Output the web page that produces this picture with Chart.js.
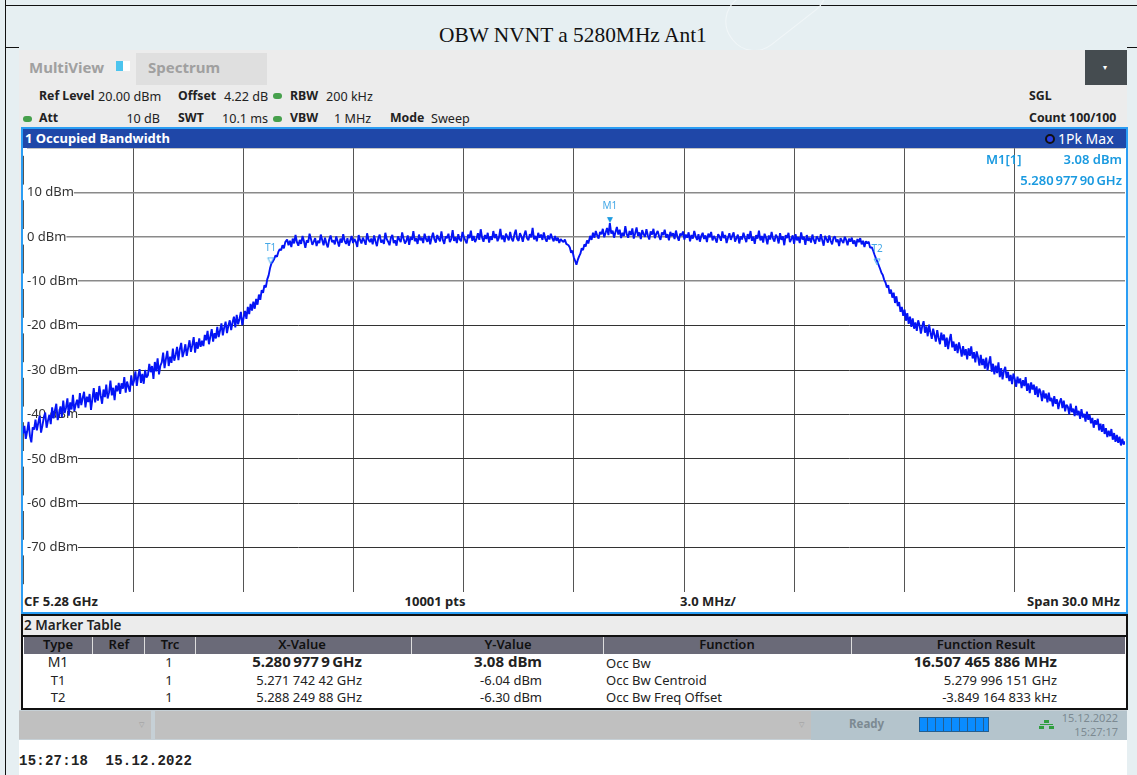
<!DOCTYPE html>
<html>
<head>
<meta charset="utf-8">
<title>OBW NVNT a 5280MHz Ant1</title>
<script src="https://cdn.jsdelivr.net/npm/chart.js@4/dist/chart.umd.min.js"></script>
<style>
  html, body { margin: 0; padding: 0; background: #e6eff2; }
  #page { position: relative; width: 1137px; height: 775px; overflow: hidden; font-family: "Noto Sans", sans-serif; font-size: 13px; color: #222; }
  .box { position: absolute; }
  .t { position: absolute; white-space: pre; line-height: 16px; }
  .b { font-weight: 700; }
  .c { transform: translateX(-50%); }
  .hd { color: #111; font-weight: 600; top: 636px; }
  .cy { color: #1a9ae0; font-weight: 600; }
  .s { font-size: 12.6px; }
  .l { font-size: 12.3px; font-weight: 700; }
  .num { word-spacing: -1.5px; }
  canvas { position: absolute; left: 23px; top: 148px; }
</style>
</head>
<body>
<div id="page">
  <div class="box" style="left:5px;top:5px;width:1132px;height:1px;background:#111"></div>
  <div class="box" style="left:5px;top:0;width:1px;height:775px;background:#111"></div>
  <div class="box" style="left:5px;top:47px;width:14px;height:1px;background:#111"></div>
  <div class="box" style="left:1127px;top:47px;width:10px;height:1px;background:#111"></div>
  <div class="box" style="left:720px;top:-24px;width:110px;height:56px;border:1px solid #f1f6f8;border-radius:28px;transform:rotate(-38deg)"></div>
  <div class="t" style="left:439px;top:24px;font:21.4px/22px 'Liberation Serif',serif;color:#111">OBW NVNT a 5280MHz Ant1</div>

  <div class="box" style="left:19px;top:50px;width:1108px;height:660px;background:#ececec"></div>
  <div class="box" style="left:19px;top:740px;width:1108px;height:35px;background:#fff"></div>

  <div class="t b" style="left:29px;top:59px;font-size:15px;color:#a0a0a0">MultiView</div>
  <div class="box" style="left:116px;top:61px;width:14px;height:10px;background:linear-gradient(90deg,#4cc4ee 50%,#fff 50%)"></div>
  <div class="box" style="left:136px;top:53px;width:131px;height:32px;background:#dfdfdf"></div>
  <div class="t b" style="left:148px;top:59px;font-size:15px;color:#a0a0a0">Spectrum</div>
  <div class="box" style="left:1085px;top:50px;width:42px;height:35px;background:#454c50"></div>
  <div class="t" style="left:1103px;top:59px;color:#fff;font-size:8px">▾</div>

  <div class="t l" style="left:39px;top:88px">Ref Level</div>
  <div class="t s" style="left:98px;top:89px">20.00 dBm</div>
  <div class="t l" style="left:178px;top:88px">Offset</div>
  <div class="t s" style="left:224px;top:89px">4.22 dB</div>
  <div class="box" style="left:273px;top:93px;width:9px;height:6px;border-radius:3px;background:#46a04c"></div>
  <div class="t l" style="left:290px;top:88px">RBW</div>
  <div class="t s" style="left:326px;top:89px">200 kHz</div>
  <div class="box" style="left:23px;top:116px;width:9px;height:6px;border-radius:3px;background:#46a04c"></div>
  <div class="t l" style="left:39px;top:110px">Att</div>
  <div class="t s" style="right:977px;top:111px">10 dB</div>
  <div class="t l" style="left:178px;top:110px">SWT</div>
  <div class="t s" style="left:222px;top:111px">10.1 ms</div>
  <div class="box" style="left:273px;top:116px;width:9px;height:6px;border-radius:3px;background:#46a04c"></div>
  <div class="t l" style="left:290px;top:110px">VBW</div>
  <div class="t s" style="left:334px;top:111px">1 MHz</div>
  <div class="t l" style="left:390px;top:110px">Mode</div>
  <div class="t s" style="left:431px;top:111px">Sweep</div>
  <div class="t l" style="left:1029px;top:88px">SGL</div>
  <div class="t l" style="left:1029px;top:110px">Count 100/100</div>

  <div class="box" style="left:21px;top:127px;width:1103px;height:483px;border:2px solid #2a9df4;background:#fff"></div>
  <div class="box" style="left:23px;top:129px;width:1103px;height:19px;background:#1f47a8"></div>
  <div class="t b" style="left:25px;top:130px;color:#fff">1 Occupied Bandwidth</div>
  <div class="box" style="left:1045px;top:134px;width:6px;height:6px;border-radius:50%;background:#2a3fe0;border:2px solid #111"></div>
  <div class="t" style="left:1058px;top:131px;color:#fff;font-size:14px">1Pk Max</div>

  <canvas id="spectrum" width="1102" height="444"></canvas>

  <div class="t cy" style="left:986px;top:151px">M1[1]</div>
  <div class="t cy" style="right:15px;top:151px">3.08 dBm</div>
  <div class="t cy num" style="right:15px;top:172px">5.280 977 90 GHz</div>

  <div class="t b" style="left:24px;top:593px">CF 5.28 GHz</div>
  <div class="t b c" style="left:435px;top:593px">10001 pts</div>
  <div class="t b c" style="left:708px;top:593px">3.0 MHz/</div>
  <div class="t b" style="right:17px;top:593px">Span 30.0 MHz</div>

  <div class="box" style="left:21px;top:614px;width:1103px;height:92px;border:2px solid #111;background:#fff"></div>
  <div class="box" style="left:23px;top:616px;width:1103px;height:19px;background:#ececec"></div>
  <div class="t" style="left:24px;top:617px;font-weight:600;font-size:13.5px">2 Marker Table</div>
  <div class="box" style="left:23px;top:635px;width:1103px;height:2px;background:#111"></div>
  <div class="box" style="left:24px;top:637px;width:1101px;height:17px;background:#6a6a78"></div>
  <div class="box" style="left:92px;top:637px;width:1px;height:17px;background:#ddd"></div>
  <div class="box" style="left:144px;top:637px;width:1px;height:17px;background:#ddd"></div>
  <div class="box" style="left:195px;top:637px;width:1px;height:17px;background:#ddd"></div>
  <div class="box" style="left:411px;top:637px;width:1px;height:17px;background:#ddd"></div>
  <div class="box" style="left:603px;top:637px;width:1px;height:17px;background:#ddd"></div>
  <div class="box" style="left:851px;top:637px;width:1px;height:17px;background:#ddd"></div>
  <div class="t hd c" style="left:58px">Type</div>
  <div class="t hd c" style="left:119px">Ref</div>
  <div class="t hd c" style="left:170px">Trc</div>
  <div class="t hd c" style="left:302px">X-Value</div>
  <div class="t hd c" style="left:508px">Y-Value</div>
  <div class="t hd c" style="left:727px">Function</div>
  <div class="t hd c" style="left:986px">Function Result</div>

  <div class="t c" style="left:58px;top:654px;font-size:14px">M1</div>
  <div class="t c" style="left:169px;top:654px">1</div>
  <div class="t b num" style="right:775px;top:653px;font-size:15px">5.280 977 9 GHz</div>
  <div class="t b" style="right:595px;top:653px;font-size:15px">3.08 dBm</div>
  <div class="t" style="left:606px;top:655px">Occ Bw</div>
  <div class="t b" style="right:80px;top:653px;font-size:15px">16.507 465 886 MHz</div>
  <div class="t c" style="left:58px;top:672px">T1</div>
  <div class="t c" style="left:169px;top:672px">1</div>
  <div class="t" style="right:775px;top:672px">5.271 742 42 GHz</div>
  <div class="t" style="right:595px;top:672px">-6.04 dBm</div>
  <div class="t" style="left:606px;top:672px">Occ Bw Centroid</div>
  <div class="t" style="right:80px;top:672px">5.279 996 151 GHz</div>
  <div class="t c" style="left:58px;top:689px">T2</div>
  <div class="t c" style="left:169px;top:689px">1</div>
  <div class="t" style="right:775px;top:689px">5.288 249 88 GHz</div>
  <div class="t" style="right:595px;top:689px">-6.30 dBm</div>
  <div class="t" style="left:606px;top:689px">Occ Bw Freq Offset</div>
  <div class="t" style="right:80px;top:689px">-3.849 164 833 kHz</div>

  <div class="box" style="left:19px;top:710px;width:1108px;height:30px;background:#c6d0d6"></div>
  <div class="box" style="left:19px;top:711px;width:132px;height:28px;background:#c0c0c0"></div>
  <div class="box" style="left:155px;top:711px;width:656px;height:28px;background:#c0c0c0"></div>
  <div class="t" style="left:139px;top:717px;color:#9a9a9a;font-size:7px">▽</div>
  <div class="t" style="left:799px;top:717px;color:#9a9a9a;font-size:7px">▽</div>
  <div class="box" style="left:811px;top:711px;width:316px;height:29px;background:#b4c4cc"></div>
  <div class="t b" style="left:849px;top:716px;font-size:11.5px;color:#7c8a92">Ready</div>
  <div class="box" style="left:919px;top:717px;width:70px;height:15px;background:repeating-linear-gradient(90deg,#0a8cff 0,#0a8cff 7px,#245e90 7px,#245e90 8px);border:1px solid #245e90;box-sizing:border-box"></div>
  <div class="box" style="left:1044px;top:720px;width:5px;height:3px;background:#2f9e3f"></div>
  <div class="box" style="left:1040px;top:724px;width:13px;height:1px;background:#2f9e3f"></div>
  <div class="box" style="left:1039px;top:726px;width:5px;height:3px;background:#2f9e3f"></div>
  <div class="box" style="left:1049px;top:726px;width:5px;height:3px;background:#2f9e3f"></div>
  <div class="t" style="right:19px;top:710px;font-size:11px;color:#7c8a92">15.12.2022</div>
  <div class="t" style="right:19px;top:724px;font-size:11px;color:#7c8a92">15:27:17</div>
  <div class="t" style="left:19px;top:753px;font:700 14px/16px 'Liberation Mono',monospace;color:#222;letter-spacing:0.25px">15:27:18  15.12.2022</div>
</div>

<script>
// sweep limits and grid, GHz and dBm
const freqStartGHz = 5.265;
const freqStopGHz = 5.295;
const freqDivGHz = 0.003;
const refTopDbm = 20;
const refBottomDbm = -80;
const levelDivDb = 10;

// trace, one list per stretch of the sweep
const leftSkirtDbm = [
  -44.3,-42.6,-45.5,-43.8,-41.7,-44.9,-46.3,-42.9,-43.4,-41.2,
  -43.6,-41.9,-40.3,-44.1,-42.5,-40.7,-39.6,-43.0,-41.4,-40.1,
  -42.2,-38.4,-40.9,-39.1,-37.6,-41.3,-39.8,-38.2,-40.6,-36.9,
  -39.7,-38.5,-36.4,-40.3,-37.3,-38.9,-35.6,-39.2,-37.8,-36.7,
  -38.6,-35.2,-37.9,-36.3,-34.9,-38.4,-36.0,-37.2,-35.4,-39.0,
  -36.5,-34.1,-37.3,-35.0,-36.9,-33.6,-35.8,-37.6,-34.4,-36.1,
  -33.3,-36.4,-35.1,-32.4,-35.7,-34.0,-36.8,-33.5,-34.8,-32.9,
  -35.4,-33.0,-34.2,-31.6,-35.1,-32.6,-33.8,-34.9,-31.2,-33.5,
  -32.4,-30.3,-33.6,-31.4,-29.8,-32.9,-30.9,-33.1,-30.0,-31.7,
  -31.2,-28.6,-30.5,-29.1,-32.0,-28.2,-30.3,-27.4,-31.0,-29.0,
  -28.3,-26.1,-29.6,-27.5,-25.7,-29.1,-27.0,-28.4,-25.2,-27.9,
  -26.6,-24.8,-27.8,-25.3,-23.9,-27.1,-25.9,-24.2,-26.8,-25.0,
  -23.3,-25.9,-24.4,-22.6,-26.1,-23.7,-25.2,-22.9,-24.8,-23.4,
  -24.6,-22.1,-23.3,-21.2,-24.2,-22.5,-20.8,-23.6,-21.7,-22.9,
  -20.3,-22.6,-21.1,-19.5,-22.2,-20.4,-19.1,-21.7,-20.0,-18.8,
  -21.0,-19.3,-18.0,-20.4,-17.6,-19.7,-18.5,-16.9,-19.9,-18.2,
  -16.7,-18.5,-15.8,-17.4,-15.1,-16.6,-14.6,-16.2,-14.0,-15.3,
  -13.0,-14.2,-12.0,-12.6,-10.9,-11.4,-9.6,-8.7,-7.1,-6.0,
  -5.6,-5.0,-4.2,-4.5,-3.4,-2.8,-3.0,-1.9,-2.6,-1.2
];
const plateauLeftDbm = [
  -0.6,-1.9,-0.9,-2.3,-0.4,-1.5,0.4,-1.2,-2.0,-0.7,-1.6,0.2,-1.0,-2.5,-0.8,-1.3,0.7,-0.5,-1.8,-1.1,
  -0.3,-2.1,-0.9,-1.4,0.5,-0.7,-1.9,-0.2,-1.5,-2.4,-0.6,0.3,-1.2,-0.8,-1.7,0.1,-1.0,-2.2,-0.4,-1.3,
  0.6,-0.9,-1.6,-0.3,-2.0,-0.8,0.2,-1.4,-0.5,-1.1,-2.3,0.4,-0.7,-1.5,-0.2,-0.9,-1.8,0.8,-0.6,-1.2,
  -0.4,-1.7,0.3,-1.0,-2.1,-0.3,0.5,-1.3,-0.7,-1.6,0.9,-0.5,-1.1,-1.9,-0.2,0.4,-1.4,-0.8,-2.0,0.1,
  -0.6,-1.2,1.0,-0.4,-1.5,-0.9,0.3,-1.8,-0.1,-0.7,1.3,-1.0,-0.3,-1.6,0.5,-0.8,-0.2,-1.4,0.7,-0.5,
  -1.1,0.2,-1.7,-0.2,0.9,-0.6,-1.3,0.4,-0.4,-1.0,1.2,-0.7,-1.6,0.1,-0.3,0.7,-1.2,-0.5,1.5,-0.9,
  -0.1,-1.4,0.6,-0.6,-1.0,1.1,0.0,-0.8,-1.5,0.5,-0.3,1.4,-0.9,0.2,-1.2,-0.4,0.8,-0.7,1.7,-0.2,
  -1.1,0.4,-0.5,0.9,-1.3,0.1,-0.7,1.3,-0.3,0.6,-1.0,-0.2,1.8,-0.6,0.3,-1.2,0.7,0.0,-0.8,1.1,
  -0.4,-1.0,0.5,1.6,-0.5,-0.9,0.8,0.1,-1.1,0.4,1.4,-0.3,-0.8,0.6,-0.1,2.0,-0.6,0.2,-1.0,0.9,
  -0.2,0.5,-0.7,1.0,-0.4,-1.1,0.3,-0.6,0.7,-0.3,-1.0,0.2,-0.9,-0.2,-1.4,-0.5,-0.9,-1.2,-0.6,-1.6
];
const notchDbm = [-1.9,-2.4,-3.6,-3.1,-4.6,-5.4,-6.3,-5.2,-4.4,-3.8,-2.6,-3.0,-1.7,-2.2,-0.8,-1.5];
const plateauRightDbm = [
  0.2,-0.7,0.9,-0.2,1.3,0.3,-0.4,1.1,0.6,1.8,-0.1,0.9,2.0,0.4,3.08,0.7,1.4,-0.2,1.1,2.2,
  0.5,1.6,-0.3,0.9,0.2,2.4,0.6,-0.2,1.3,0.4,1.9,-0.4,0.8,2.1,0.2,1.0,-0.5,1.5,0.6,0.0,
  1.7,0.3,-0.6,1.2,0.5,1.8,-0.3,0.7,1.3,0.1,-0.7,1.0,0.4,1.6,-0.2,0.6,-0.8,1.1,0.2,0.8,
  -0.5,1.4,0.0,-0.9,0.7,0.3,1.2,-0.6,0.5,-0.2,1.0,-1.0,0.4,-0.4,1.3,0.1,-0.7,0.6,-1.1,0.2,
  0.9,-0.5,0.3,-1.2,0.7,-0.1,1.1,-0.8,0.2,-0.4,-1.3,0.6,0.0,-0.9,1.2,-0.3,0.4,-1.4,-0.2,0.8,
  -0.7,0.2,1.0,-1.1,-0.3,0.5,-1.5,0.1,-0.6,0.9,-0.2,-1.2,0.6,-0.5,1.3,-0.9,0.0,-1.6,0.4,-0.4,
  1.4,-0.8,0.2,-1.3,0.7,-0.2,-1.7,0.3,-0.6,1.1,-0.4,-1.1,0.5,-0.1,-1.5,0.8,-0.7,0.1,-1.9,0.4,
  -0.3,0.9,-1.2,-0.5,0.3,-1.6,0.6,-0.8,-0.1,-1.4,1.0,-0.6,0.0,-1.8,0.4,-0.9,-0.2,-1.3,0.5,-0.7,
  -1.6,0.1,-0.4,-1.1,0.6,-0.8,-2.0,0.2,-0.5,-1.3,0.3,-0.9,-1.7,-0.2,0.1,-1.2,-0.6,-2.1,-0.3,-0.9,
  -1.4,0.0,-0.7,-1.9,-0.4,-1.1,-0.2,-1.6,-0.8,-2.2,-0.5,-1.2,-0.3,-1.7,-0.9,-2.3,-1.0,-1.5,-1.1,-2.4
];
const rightSkirtDbm = [
  -2.4,-3.2,-4.1,-4.9,-5.6,-6.4,-7.2,-8.1,-8.6,-9.7,
  -10.3,-11.4,-10.9,-12.8,-11.9,-13.7,-12.6,-14.9,-13.4,-15.6,
  -14.7,-16.9,-15.8,-17.8,-16.4,-18.9,-17.2,-19.6,-18.0,-20.3,
  -18.4,-20.7,-19.3,-21.2,-18.8,-19.9,-21.8,-20.1,-19.0,-21.6,
  -20.2,-22.4,-19.8,-21.5,-23.0,-20.7,-22.1,-23.6,-21.0,-22.8,
  -24.2,-21.6,-23.3,-22.0,-24.8,-22.7,-25.3,-23.2,-21.9,-24.9,
  -23.6,-25.7,-24.1,-26.2,-23.8,-25.2,-27.0,-24.6,-26.7,-25.3,
  -27.6,-25.1,-26.8,-24.7,-27.4,-26.0,-28.3,-25.8,-27.1,-29.0,
  -26.6,-28.9,-27.5,-29.7,-27.2,-30.1,-28.4,-26.9,-30.4,-28.6,
  -31.0,-29.0,-30.7,-28.3,-31.6,-29.6,-32.1,-30.2,-29.3,-31.8,
  -30.4,-32.5,-31.1,-33.2,-30.8,-32.0,-33.8,-31.5,-33.0,-31.9,
  -34.1,-32.3,-33.6,-31.6,-34.7,-33.0,-35.2,-32.8,-34.4,-33.3,
  -35.6,-33.7,-36.1,-34.2,-35.0,-37.0,-34.6,-36.4,-35.3,-37.3,
  -35.1,-37.0,-36.3,-38.2,-35.9,-37.6,-36.6,-38.8,-37.2,-36.4,
  -38.6,-36.9,-39.3,-37.8,-38.3,-40.0,-37.6,-39.5,-38.7,-40.4,
  -38.1,-40.2,-39.2,-41.0,-38.8,-40.7,-39.9,-41.6,-39.4,-41.2,
  -40.1,-42.0,-40.8,-43.0,-41.3,-42.3,-41.0,-43.6,-42.1,-43.9,
  -42.2,-44.4,-43.1,-45.1,-43.7,-44.9,-43.3,-45.7,-44.2,-46.2,
  -44.6,-46.4,-45.0,-47.0,-45.5,-46.8,-46.1
];

// markers from the marker table
const markerNames = ['M1', 'T1', 'T2'];
const markerFreqGHz = [5.2809779, 5.27174242, 5.28824988];
const markerLevelDbm = [3.08, -6.04, -6.30];

function sweep(startGHz, stopGHz, values) {
  return values.map((y, i) => ({ x: startGHz + (stopGHz - startGHz) * i / (values.length - 1), y }));
}

const tracePoints = [
  ...sweep(5.265, 5.27214, leftSkirtDbm),
  ...sweep(5.27219, 5.27979, plateauLeftDbm),
  ...sweep(5.27985, 5.28039, notchDbm),
  ...sweep(5.28044, 5.28806, plateauRightDbm),
  ...sweep(5.28811, 5.295, rightSkirtDbm)
];

// down triangle sitting above its point, the tip lands on the level
function markerGlyph(filled) {
  const c = document.createElement('canvas');
  c.width = 14; c.height = 14;
  const g = c.getContext('2d');
  g.beginPath();
  g.moveTo(4, 1); g.lineTo(10, 1); g.lineTo(7, 7); g.closePath();
  if (filled) { g.fillStyle = '#1a9ae0'; g.fill(); }
  else { g.strokeStyle = '#45b0ee'; g.stroke(); }
  return c;
}

const markerText = {
  id: 'markerText',
  afterDatasetsDraw(chart) {
    const { ctx } = chart;
    const pts = chart.getDatasetMeta(1).data;
    ctx.save();
    ctx.font = '10px "Noto Sans"';
    ctx.fillStyle = '#45a8e6';
    ctx.textAlign = 'center';
    pts.forEach((p, i) => ctx.fillText(markerNames[i], p.x, p.y - (i === 0 ? 14 : 13)));
    ctx.restore();
  }
};

// the plot fills the canvas, labels sit inside it
function noAxisRoom(scale) {
  if (scale.isHorizontal()) scale.height = 0; else scale.width = 0;
  scale.paddingTop = scale.paddingBottom = scale.paddingLeft = scale.paddingRight = 0;
}

new Chart(document.getElementById('spectrum'), {
  type: 'line',
  data: {
    datasets: [
      { data: tracePoints, borderColor: '#0414f5', borderWidth: 1.9, borderJoinStyle: 'bevel', pointRadius: 0, tension: 0, order: 2 },
      {
        type: 'scatter',
        data: markerFreqGHz.map((x, i) => ({ x, y: markerLevelDbm[i] })),
        pointStyle: [markerGlyph(true), markerGlyph(false), markerGlyph(false)],
        order: 1
      }
    ]
  },
  options: {
    responsive: false,
    animation: false,
    layout: { padding: 0, autoPadding: false },
    plugins: { legend: { display: false }, tooltip: { enabled: false } },
    scales: {
      x: {
        type: 'linear',
        min: freqStartGHz,
        max: freqStopGHz,
        afterFit: noAxisRoom,
        ticks: { display: false, stepSize: freqDivGHz },
        border: { display: false },
        grid: { color: '#555', lineWidth: 1, drawTicks: false }
      },
      y: {
        min: refBottomDbm,
        max: refTopDbm,
        afterFit: noAxisRoom,
        border: { display: false },
        ticks: {
          stepSize: levelDivDb,
          mirror: true,
          padding: 4,
          color: '#333',
          font: { family: 'Noto Sans', size: 13 },
          showLabelBackdrop: true,
          backdropColor: '#fff',
          backdropPadding: { left: 4, right: 0, top: 0, bottom: 0 },
          callback: v => (v === refTopDbm || v === refBottomDbm) ? '' : v + ' dBm'
        },
        grid: {
          drawTicks: false,
          color: c => c.tick.value >= -10 ? '#8a8a8a' : '#333',
          lineWidth: c => c.tick.value >= -10 ? 1.5 : 1
        }
      }
    }
  },
  plugins: [markerText]
});
</script>
</body>
</html>
